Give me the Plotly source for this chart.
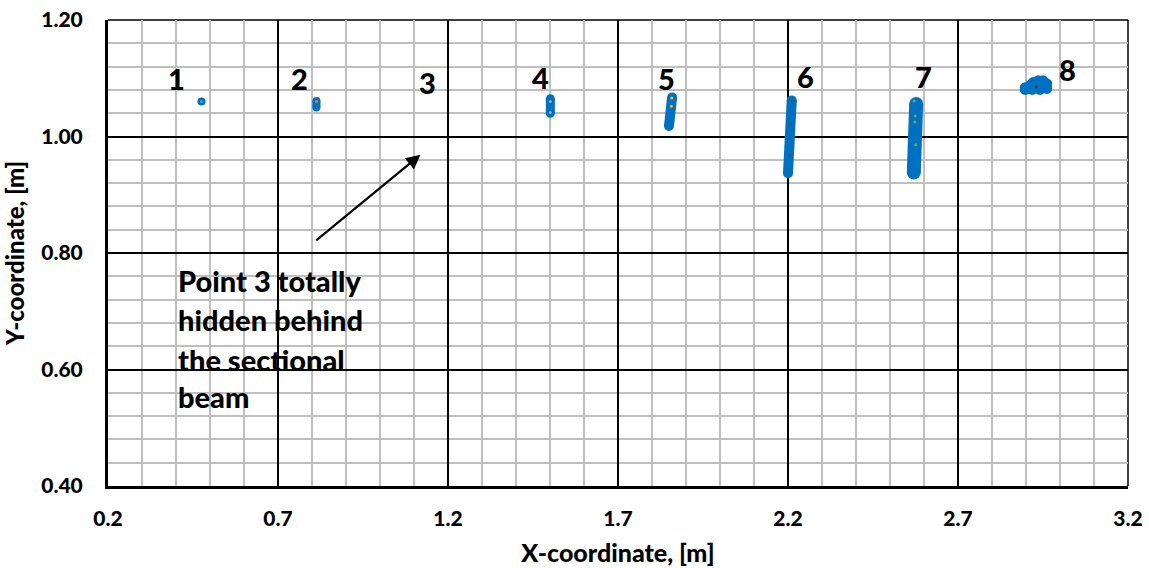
import plotly.graph_objects as go

# Recorded target positions (x, y in metres) for each tracked point
t1_x = [0.475]
t1_y = [1.060]
t2_x = [0.813, 0.813]
t2_y = [1.061, 1.050]
t4_x = [1.501, 1.501]
t4_y = [1.065, 1.040]
t5_x = [1.859, 1.850]
t5_y = [1.067, 1.018]
t6_x = [2.211, 2.200]
t6_y = [1.062, 0.937]
t7_x = [2.577, 2.570]
t7_y = [1.056, 0.938]
t8_x = [2.898, 2.898, 2.912, 2.921, 2.936, 2.950, 2.961, 2.961, 2.941, 2.918, 2.930, 2.945, 2.908]
t8_y = [1.0839, 1.0808, 1.0873, 1.0925, 1.0955, 1.0955, 1.0905, 1.0825, 1.0808, 1.0808, 1.0873, 1.0880, 1.0830]

# Individual reading positions shown as small dots on top of each trail
dot_x = [0.475, 0.813, 1.501, 1.501, 1.858, 1.857, 2.211, 2.209, 2.206, 2.571, 2.574, 2.573, 2.576, 2.930]
dot_y = [1.060, 1.060, 1.060, 1.041, 1.066, 1.052, 1.062, 1.020, 0.967, 1.061, 1.035, 1.025, 0.986, 1.085]
dot_color = ["#5B9BD5", "#ED7D31", "#A5A5A5", "#A5A5A5", "#FFC000", "#FFC000",
             "#44546A", "#44546A", "#44546A", "#70AD47", "#70AD47", "#70AD47", "#70AD47", "#264478"]

# Point number labels
label_text = ["1", "2", "3", "4", "5", "6", "7", "8"]
label_x = [0.402, 0.763, 1.139, 1.472, 1.844, 2.251, 2.598, 3.021]
label_y = [1.100, 1.100, 1.093, 1.101, 1.099, 1.1025, 1.103, 1.115]

note_lines = ["Point 3 totally", "hidden behind", "the sectional", "beam"]
note_x = 0.399
note_y = [0.752, 0.686, 0.618, 0.554]

BLUE = "#0070C0"
FONT = "Lato"

fig = go.Figure()

trails = [(t1_x, t1_y, 8), (t2_x, t2_y, 8), (t4_x, t4_y, 9), (t5_x, t5_y, 10),
          (t6_x, t6_y, 10), (t7_x, t7_y, 14)]
for tx, ty, w in trails:
    fig.add_trace(go.Scatter(
        x=tx, y=ty, mode="lines+markers",
        line=dict(color=BLUE, width=w),
        marker=dict(color=BLUE, size=w),
        showlegend=False, hoverinfo="x+y"))

fig.add_trace(go.Scatter(
    x=t8_x, y=t8_y, mode="markers",
    marker=dict(color=BLUE, size=11),
    showlegend=False))

fig.add_trace(go.Scatter(
    x=dot_x, y=dot_y, mode="markers",
    marker=dict(color=dot_color, size=3),
    showlegend=False))

annotations = []
for t, lx, ly in zip(label_text, label_x, label_y):
    annotations.append(dict(x=lx, y=ly, xref="x", yref="y", text=t, showarrow=False,
                            xanchor="center", yanchor="middle",
                            font=dict(family=FONT, size=29, color="black", weight=900)))
for line, ly in zip(note_lines, note_y):
    annotations.append(dict(x=note_x, y=ly, xref="x", yref="y", text=line, showarrow=False,
                            xanchor="left", yanchor="middle",
                            font=dict(family=FONT, size=29, color="black", weight=900)))

# Arrow pointing towards hidden point 3
annotations.append(dict(x=1.119, y=0.9686, ax=0.808, ay=0.8194, xref="x", yref="y",
                        axref="x", ayref="y", text="", showarrow=True,
                        arrowhead=2, arrowsize=1.3, arrowwidth=2.2, arrowcolor="black",
                        standoff=0, startstandoff=0))

fig.update_layout(
    width=1149, height=568,
    margin=dict(l=108, r=21, t=20, b=82),
    paper_bgcolor="white", plot_bgcolor="white",
    annotations=annotations,
    shapes=[
        dict(type="line", xref="paper", yref="paper", x0=0, x1=1, y0=1, y1=1,
             line=dict(color="black", width=1.5), layer="below"),
        dict(type="line", xref="paper", yref="paper", x0=1, x1=1, y0=0, y1=1,
             line=dict(color="black", width=1.5), layer="below"),
    ],
)

fig.update_xaxes(
    range=[0.2, 3.2], tick0=0.2, dtick=0.5, tickformat=".1f",
    showgrid=True, gridcolor="black", gridwidth=1.5,
    minor=dict(tick0=0.2, dtick=0.1, showgrid=True, gridcolor="#BFBFBF", gridwidth=1.5),
    showline=True, linecolor="black", linewidth=3, zeroline=False,
    ticks="", ticklabelstandoff=12, automargin=False,
    tickfont=dict(family=FONT, size=21, color="black", weight=900),
    title=dict(text="X-coordinate, [m]", standoff=16,
               font=dict(family=FONT, size=25, color="black", weight=900)),
)
fig.update_yaxes(
    range=[0.4, 1.2], tick0=0.4, dtick=0.2, tickformat=".2f",
    showgrid=True, gridcolor="black", gridwidth=1.5,
    minor=dict(tick0=0.4, dtick=0.04, showgrid=True, gridcolor="#BFBFBF", gridwidth=1.5),
    showline=True, linecolor="black", linewidth=3, zeroline=False,
    ticks="", ticklabelstandoff=18, automargin=False,
    tickfont=dict(family=FONT, size=21, color="black", weight=900),
    title=dict(text="Y-coordinate, [m]", standoff=16,
               font=dict(family=FONT, size=24, color="black", weight=900)),
)

fig.write_html("out.html")
